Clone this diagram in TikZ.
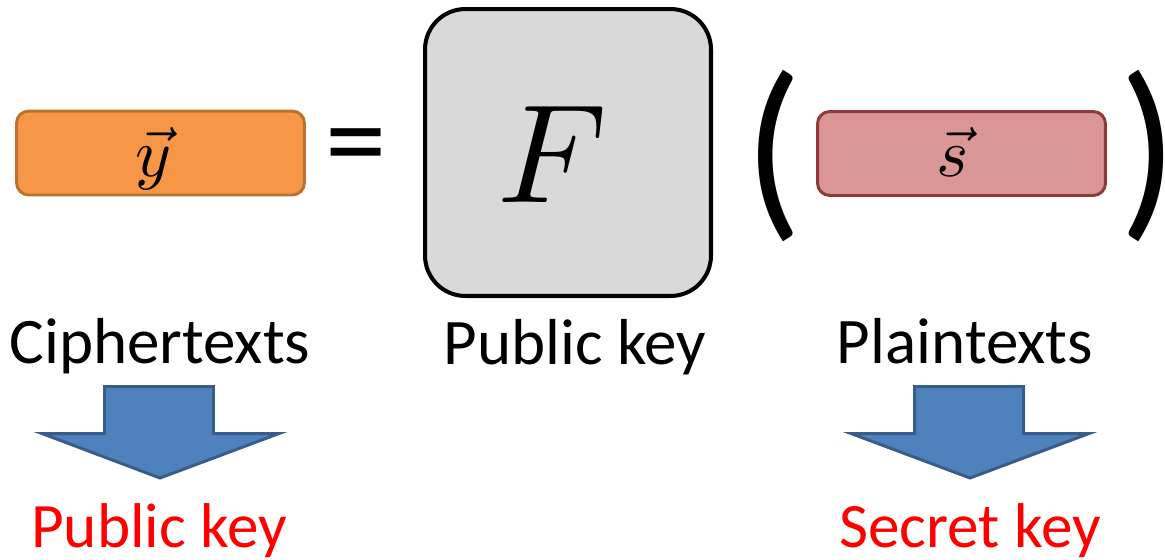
\documentclass[tikz,border=0pt]{standalone}
\usepackage{graphicx}
\usepackage{fontspec}
\newfontfamily\calibri{Carlito}
\definecolor{orangefill}{HTML}{F79646}
\definecolor{orangeline}{HTML}{B87333}
\definecolor{pinkfill}{HTML}{D99694}
\definecolor{pinkline}{HTML}{8E3A38}
\definecolor{keyfill}{HTML}{D9D9D9}
\definecolor{arrowfill}{HTML}{4F81BD}
\definecolor{arrowline}{HTML}{385D8A}
\begin{document}
\begin{tikzpicture}[x=0.02cm,y=-0.02cm,
  vecbox/.style={draw, line width=1.7pt, rounded corners=7pt,
    minimum width=5.76cm, minimum height=1.68cm, inner sep=0pt},
  keybox/.style={draw=black, fill=keyfill, line width=2.3pt, rounded corners=23pt,
    minimum width=5.72cm, minimum height=5.74cm, inner sep=0pt},
  caption/.style={font=\calibri\fontsize{37}{42}\selectfont, anchor=base, inner sep=0pt},
  keylabel/.style={caption, font=\calibri\fontsize{36}{42}\selectfont, text=red},
  bigsym/.style={font=\calibri\fontsize{70}{80}\selectfont, inner sep=0pt},
  paren/.style={font=\calibri\fontsize{104}{110}\selectfont, inner sep=0pt},
  downarrow/.style={fill=arrowfill, draw=arrowline, line width=1.7pt, line join=miter}]
\useasboundingbox (0,0) rectangle (1165,559);

% y = F(s)
\node[vecbox, fill=orangefill, draw=orangeline] (cipher) at (160.5,153) {};
\node[inner sep=0pt] (ysym) at (153,159) {\scalebox{3.9}{$\vec{y}$}};
\node[bigsym] (eq) at (356,155) {=};
\node[keybox] (key) at (568,152.5) {};
\node[inner sep=0pt] (fsym) at (552,154.5) {\scalebox{8}{$F$}};
\node[paren] (lpar) at (774,156) {\scalebox{1.05}[1.08]{(}};
\node[vecbox, fill=pinkfill, draw=pinkline] (plain) at (961.5,153.5) {};
\node[inner sep=0pt] (ssym) at (953,152) {\scalebox{3.9}{$\vec{s}$}};
\node[paren] (rpar) at (1149,156) {\scalebox{1.05}[1.08]{)}};

% captions
\node[caption] (ciphercap) at (160,363) {Ciphertexts};
\node[caption] (keycap) at (575,364) {Public key};
\node[caption] (plaincap) at (965,363) {Plaintexts};

% block arrows
\draw[downarrow] (104.5,386.5) -- (213.5,386.5) -- (213.5,433.5) -- (279,433.5)
  -- (160,478) -- (42,433.5) -- (104.5,433.5) -- cycle;
\draw[downarrow] (914.5,386.5) -- (1023.5,386.5) -- (1023.5,433.5) -- (1089,433.5)
  -- (970,478) -- (851,433.5) -- (914.5,433.5) -- cycle;

\node[keylabel] (pubkey) at (159,547) {Public key};
\node[keylabel] (seckey) at (970,547) {Secret key};
\end{tikzpicture}
\end{document}
